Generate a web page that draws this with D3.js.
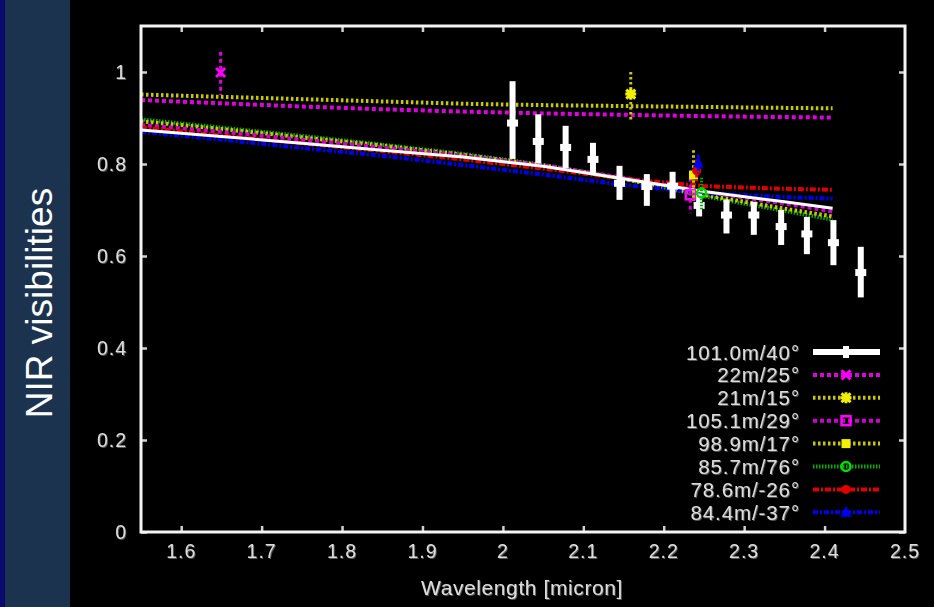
<!DOCTYPE html>
<html>
<head>
<meta charset="utf-8">
<script src="https://cdn.jsdelivr.net/npm/d3@7"></script>
<style>
  html, body { margin: 0; padding: 0; background: #000; }
  svg { display: block; }
  text { font-family: "Liberation Sans", Arial, Helvetica, sans-serif; }
</style>
</head>
<body>
<svg id="chart" width="934" height="607"></svg>
<script>
// Wavelength grid for the model curves (micron)
const modelWavelengths = [1.55, 1.65, 1.75, 1.85, 1.95, 2.05, 2.15, 2.25, 2.35, 2.41];

// Model visibility curves, one per baseline
const model101 = [0.874, 0.860, 0.845, 0.830, 0.815, 0.795, 0.768, 0.740, 0.718, 0.704];
const model22  = [0.939, 0.932, 0.925, 0.919, 0.914, 0.910, 0.907, 0.904, 0.902, 0.901];
const model21  = [0.951, 0.946, 0.941, 0.936, 0.931, 0.928, 0.926, 0.924, 0.922, 0.921];
const model105 = [0.885, 0.870, 0.853, 0.836, 0.818, 0.797, 0.770, 0.740, 0.714, 0.697];
const model98  = [0.893, 0.876, 0.858, 0.840, 0.820, 0.797, 0.768, 0.733, 0.703, 0.686];
const model85  = [0.897, 0.879, 0.861, 0.842, 0.822, 0.798, 0.768, 0.730, 0.698, 0.679];
const model78  = [0.880, 0.862, 0.845, 0.828, 0.810, 0.790, 0.768, 0.752, 0.746, 0.744];
const model84  = [0.870, 0.853, 0.835, 0.818, 0.798, 0.777, 0.755, 0.737, 0.728, 0.725];

// Spectrally dispersed measurements on the 101.0 m baseline
const wl101  = [2.012, 2.044, 2.078, 2.112, 2.145, 2.179, 2.211, 2.244, 2.278, 2.312, 2.346, 2.378, 2.411, 2.445];
const vis101 = [0.889, 0.849, 0.836, 0.810, 0.758, 0.751, 0.752, 0.710, 0.689, 0.689, 0.664, 0.648, 0.629, 0.564];
const lo101  = [0.811, 0.801, 0.791, 0.780, 0.722, 0.709, 0.725, 0.686, 0.649, 0.646, 0.624, 0.604, 0.580, 0.510];
const hi101  = [0.980, 0.908, 0.883, 0.846, 0.796, 0.778, 0.783, 0.736, 0.723, 0.718, 0.700, 0.685, 0.678, 0.620];

// Single broadband measurements for the other baselines
const pointLabels = ["22m/25°", "21m/15°", "105.1m/29°", "98.9m/17°", "85.7m/76°", "78.6m/-26°", "84.4m/-37°"];
const pointWl     = [1.649, 2.159, 2.233, 2.237, 2.247, 2.241, 2.243];
const pointVis    = [0.999, 0.952, 0.733, 0.776, 0.737, 0.785, 0.802];
const pointLo     = [0.950, 0.896, 0.693, 0.720, 0.700, 0.760, 0.780];
const pointHi     = [1.044, 1.000, 0.770, 0.830, 0.770, 0.810, 0.820];

const legendLabels = ["101.0m/40°", "22m/25°", "21m/15°", "105.1m/29°", "98.9m/17°", "85.7m/76°", "78.6m/-26°", "84.4m/-37°"];
const xTicks = [1.6, 1.7, 1.8, 1.9, 2, 2.1, 2.2, 2.3, 2.4, 2.5];
const yTicks = [0, 0.2, 0.4, 0.6, 0.8, 1];

// Styling for each series (same order as legendLabels)
const styles = [
  { color: "#ffffff", width: 3,   dash: null,        marker: "bar" },
  { color: "#e000e0", width: 4,   dash: "4,3",       marker: "cross" },
  { color: "#c8c800", width: 4,   dash: "2.5,2.5",   marker: "star" },
  { color: "#d000d0", width: 4,   dash: "4,3",       marker: "square" },
  { color: "#c8c800", width: 4,   dash: "2.5,2.5",   marker: "fsquare" },
  { color: "#00b000", width: 4,   dash: "1.5,1.5",   marker: "circle" },
  { color: "#e00000", width: 4,   dash: "6,2,2,2",   marker: "fcircle" },
  { color: "#0000f0", width: 4,   dash: "5,2,2,2",   marker: "triangle" }
];
const models = [model101, model22, model21, model105, model98, model85, model78, model84];

const svg = d3.select("#chart");
const W = 934, H = 607;
const plot = { left: 141, right: 905, top: 26, bottom: 532 };

// Side band with the vertical title
svg.append("rect").attr("x", 0).attr("y", 0).attr("width", W).attr("height", H).attr("fill", "#000");
svg.append("rect").attr("x", 0).attr("y", 0).attr("width", 70).attr("height", H).attr("fill", "#1c3350");
svg.append("rect").attr("x", 0).attr("y", 0).attr("width", 5).attr("height", H).attr("fill", "#0a0a6e");
svg.append("text")
  .attr("transform", "translate(52,303) rotate(-90)")
  .attr("text-anchor", "middle")
  .attr("fill", "#ffffff")
  .style("font-size", "37px")
  .text("NIR visibilities");

const x = d3.scaleLinear().domain([1.55, 2.5]).range([plot.left, plot.right]);
const y = d3.scaleLinear().domain([0, 1.1]).range([plot.bottom, plot.top]);

const defs = svg.append("defs");
defs.append("clipPath").attr("id", "plotclip")
  .append("rect").attr("x", plot.left).attr("y", plot.top)
  .attr("width", plot.right - plot.left).attr("height", plot.bottom - plot.top);
const shadow = defs.append("filter").attr("id", "emboss").attr("x", "-20%").attr("y", "-20%").attr("width", "140%").attr("height", "140%");
shadow.append("feDropShadow").attr("dx", 1).attr("dy", 1).attr("stdDeviation", 0.6).attr("flood-color", "#555");

// Axes with inward ticks on all four sides
const tickLen = 6;
const axB = d3.axisBottom(x).tickValues(xTicks.slice(0, -1)).tickSize(-tickLen).tickFormat("");
const axT = d3.axisTop(x).tickValues(xTicks.slice(0, -1)).tickSize(-tickLen).tickFormat("");
const axL = d3.axisLeft(y).tickValues(yTicks).tickSize(-tickLen).tickFormat("");
const axR = d3.axisRight(y).tickValues(yTicks).tickSize(-tickLen).tickFormat("");
function styleAxis(g) {
  g.select(".domain").remove();
  g.selectAll(".tick line").attr("stroke", "#d0d0d0").attr("stroke-width", 2.5);
}
svg.append("g").attr("transform", `translate(0,${plot.bottom})`).call(axB).call(styleAxis);
svg.append("g").attr("transform", `translate(0,${plot.top})`).call(axT).call(styleAxis);
svg.append("g").attr("transform", `translate(${plot.left},0)`).call(axL).call(styleAxis);
svg.append("g").attr("transform", `translate(${plot.right},0)`).call(axR).call(styleAxis);

// Tick labels
const labelFill = "#dcdcdc";
svg.append("g").selectAll("text").data(xTicks).join("text")
  .attr("x", d => x(d)).attr("y", 558)
  .attr("text-anchor", "middle").attr("fill", labelFill)
  .attr("filter", "url(#emboss)")
  .style("font-size", "19.5px").style("letter-spacing", "1px")
  .text(d => d3.format("")(d));
svg.append("g").selectAll("text").data(yTicks).join("text")
  .attr("x", 127).attr("y", d => y(d) + 7)
  .attr("text-anchor", "end").attr("fill", labelFill)
  .attr("filter", "url(#emboss)")
  .style("font-size", "19.5px").style("letter-spacing", "1px")
  .text(d => d3.format("")(d));
svg.append("text")
  .attr("x", 522).attr("y", 595)
  .attr("text-anchor", "middle").attr("fill", labelFill)
  .attr("filter", "url(#emboss)")
  .style("font-size", "21px").style("letter-spacing", "0.6px")
  .text("Wavelength [micron]");

// Model curves
const plotG = svg.append("g").attr("clip-path", "url(#plotclip)");
const line = d3.line().x(d => x(d[0])).y(d => y(d[1]));
const drawOrder = [1, 2, 5, 4, 3, 6, 7, 0];
drawOrder.forEach(i => {
  const s = styles[i];
  plotG.append("path")
    .datum(modelWavelengths.map((w, k) => [w, models[i][k]]))
    .attr("d", line)
    .attr("fill", "none")
    .attr("stroke", s.color)
    .attr("stroke-width", s.width)
    .attr("stroke-dasharray", s.dash);
});

// Marker shapes
function drawMarker(g, type, cx, cy, color, size) {
  const r = size;
  switch (type) {
    case "bar":
      g.append("rect").attr("x", cx - 3).attr("y", cy - 6).attr("width", 6).attr("height", 12).attr("fill", color);
      break;
    case "cross":
      g.append("path").attr("d", `M${cx - r},${cy - r}L${cx + r},${cy + r}M${cx - r},${cy + r}L${cx + r},${cy - r}`)
        .attr("stroke", color).attr("stroke-width", 3);
      break;
    case "star":
      g.append("path").attr("d", `M${cx - r},${cy - r}L${cx + r},${cy + r}M${cx - r},${cy + r}L${cx + r},${cy - r}M${cx - r - 1},${cy}L${cx + r + 1},${cy}M${cx},${cy - r - 1}L${cx},${cy + r + 1}`)
        .attr("stroke", color).attr("stroke-width", 3);
      break;
    case "square":
      g.append("rect").attr("x", cx - r).attr("y", cy - r).attr("width", 2 * r).attr("height", 2 * r)
        .attr("fill", "none").attr("stroke", color).attr("stroke-width", 2.5);
      break;
    case "fsquare":
      g.append("rect").attr("x", cx - r).attr("y", cy - r).attr("width", 2 * r).attr("height", 2 * r).attr("fill", color);
      break;
    case "circle":
      g.append("circle").attr("cx", cx).attr("cy", cy).attr("r", r)
        .attr("fill", "none").attr("stroke", color).attr("stroke-width", 2.5);
      break;
    case "fcircle":
      g.append("circle").attr("cx", cx).attr("cy", cy).attr("r", r).attr("fill", color);
      break;
    case "triangle":
      g.append("path").attr("d", `M${cx},${cy - r - 2}L${cx + r + 1},${cy + r}L${cx - r - 1},${cy + r}Z`).attr("fill", color);
      break;
  }
}

// Dispersed 101.0 m measurements: thick error bars with a wider tick at the value
const dataG = svg.append("g");
wl101.forEach((w, i) => {
  const cx = x(w);
  dataG.append("rect")
    .attr("x", cx - 3).attr("width", 6)
    .attr("y", y(hi101[i])).attr("height", y(lo101[i]) - y(hi101[i]))
    .attr("fill", "#ffffff");
  dataG.append("rect")
    .attr("x", cx - 5.5).attr("width", 11)
    .attr("y", y(vis101[i]) - 3.5).attr("height", 7)
    .attr("fill", "#ffffff");
});

// Broadband measurements for the remaining baselines
pointWl.forEach((w, i) => {
  const s = styles[i + 1];
  const cx = x(w);
  dataG.append("line")
    .attr("x1", cx).attr("x2", cx)
    .attr("y1", y(pointHi[i])).attr("y2", y(pointLo[i]))
    .attr("stroke", s.color).attr("stroke-width", 3)
    .attr("stroke-dasharray", s.dash);
  const col = (i === 1 || i === 3) ? "#f0f000" : (i === 0 || i === 2) ? "#ff00ff" : (i === 4 ? "#00e000" : s.color);
  drawMarker(dataG, s.marker, cx, y(pointVis[i]), col, 4.5);
});

// Legend
const legG = svg.append("g");
legendLabels.forEach((lab, i) => {
  const ly = 352 + i * 22.9;
  const s = styles[i];
  legG.append("text")
    .attr("x", 800).attr("y", ly + 7.5)
    .attr("text-anchor", "end").attr("fill", labelFill)
    .attr("filter", "url(#emboss)")
    .style("font-size", "20.5px").style("letter-spacing", "0.9px")
    .text(lab);
  legG.append("line")
    .attr("x1", 813).attr("x2", 880).attr("y1", ly).attr("y2", ly)
    .attr("stroke", s.color)
    .attr("stroke-width", i === 0 ? 6 : 4)
    .attr("stroke-dasharray", s.dash);
  const col = (i === 2 || i === 4) ? "#f0f000" : (i === 1 || i === 3) ? "#ff00ff" : (i === 5 ? "#00e000" : s.color);
  drawMarker(legG, s.marker, 846, ly, col, 4.5);
});

// Plot frame
svg.append("rect")
  .attr("x", plot.left).attr("y", plot.top)
  .attr("width", plot.right - plot.left).attr("height", plot.bottom - plot.top)
  .attr("fill", "none").attr("stroke", "#f4f4f4").attr("stroke-width", 3);
</script>
</body>
</html>
